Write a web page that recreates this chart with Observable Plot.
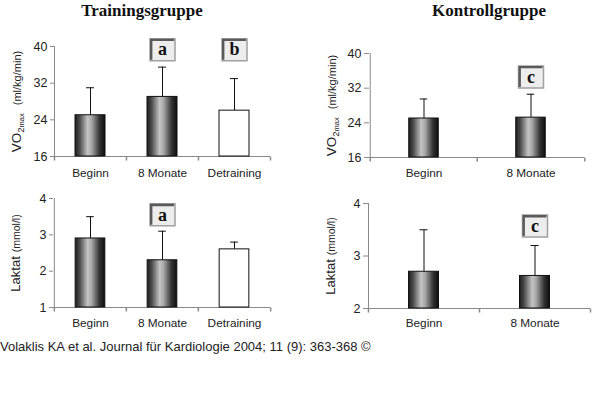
<!DOCTYPE html>
<html>
<head>
<meta charset="utf-8">
<script src="https://cdn.jsdelivr.net/npm/d3@7"></script>
<script src="https://cdn.jsdelivr.net/npm/@observablehq/plot@0.6"></script>
<style>
  html, body { margin: 0; padding: 0; background: #fff; }
  #root { position: relative; width: 600px; height: 396px; background: #fff; overflow: hidden; font-family: "Liberation Sans", Arial, sans-serif; }
  .title { position: absolute; font-family: "Liberation Serif", "Times New Roman", serif; font-weight: bold; font-size: 17px; line-height: 20px; text-align: center; color: #111; }
  .panel { position: absolute; }
  .caption { position: absolute; left: 0; top: 340px; font-size: 13px; line-height: 14px; color: #222; white-space: nowrap; }
</style>
</head>
<body>
<svg width="0" height="0" style="position:absolute">
  <defs>
    <linearGradient id="cyl" x1="0" x2="1" y1="0" y2="0">
      <stop offset="0" stop-color="#1e1e1e"/>
      <stop offset="0.15" stop-color="#4a4a4a"/>
      <stop offset="0.42" stop-color="#c4c4c4"/>
      <stop offset="0.55" stop-color="#a8a8a8"/>
      <stop offset="0.82" stop-color="#333"/>
      <stop offset="1" stop-color="#0e0e0e"/>
    </linearGradient>
  </defs>
</svg>
<div id="root">
  <div class="title" style="left:0;top:1px;width:284px;">Trainingsgruppe</div>
  <div class="title" style="left:389px;top:1px;width:200px;">Kontrollgruppe</div>
  <div class="caption">Volaklis KA et al. Journal für Kardiologie 2004; 11 (9): 363-368 ©</div>
</div>
<script>
// ---- data ----
const catsTrain = ["Beginn", "8 Monate", "Detraining"];
const catsKontroll = ["Beginn", "8 Monate"];

const vo2TrainMean = [25, 29, 26];
const vo2TrainSD = [6, 6.5, 7];
const vo2TrainSig = ["", "a", "b"];

const vo2KontrollMean = [25, 25.2];
const vo2KontrollSD = [4.5, 5.4];
const vo2KontrollSig = ["", "c"];

const laktatTrainMean = [2.9, 2.3, 2.6];
const laktatTrainSD = [0.6, 0.8, 0.2];
const laktatTrainSig = ["", "a", ""];

const laktatKontrollMean = [2.7, 2.62];
const laktatKontrollSD = [0.8, 0.58];
const laktatKontrollSig = ["", "c"];

const vo2Domain = [16, 40];
const vo2Ticks = [16, 24, 32, 40];
const laktatTrainDomain = [1, 4];
const laktatTrainTicks = [1, 2, 3, 4];
const laktatKontrollDomain = [2, 4];
const laktatKontrollTicks = [2, 3, 4];

// level (data units) of the significance boxes
const sigLevel = { vo2Train: 39.3, vo2Kontroll: 34.6, laktatTrain: 3.55, laktatKontroll: 3.57 };

const vo2Label = "VO2max (ml/kg/min)";
const laktatLabel = "Laktat (mmol/l)";

// ---- helpers ----
const NS = "http://www.w3.org/2000/svg";
const tickDown = { draw(ctx) { ctx.moveTo(0, 0); ctx.lineTo(0, 4); } };
const boxSym = { draw(ctx) { ctx.rect(-12.5, -11, 25, 22); } };
const bevelSym = { draw(ctx) { ctx.moveTo(-11.3, 10); ctx.lineTo(-11.3, -9.8); ctx.lineTo(11.5, -9.8); } };

function richLabel(svg, plain, parts) {
  for (const t of svg.querySelectorAll("text")) {
    if (t.textContent === plain) {
      t.textContent = "";
      for (const p of parts) {
        const ts = document.createElementNS(NS, "tspan");
        ts.textContent = p.t;
        ts.setAttribute("font-size", p.size);
        if (p.dy != null) ts.setAttribute("dy", p.dy);
        if (p.dx != null) ts.setAttribute("dx", p.dx);
        t.appendChild(ts);
      }
    }
  }
}

function panel(o) {
  const { cats, means, sds, sig, level, yDomain, yTicks, width, height, mL, mR, mT, mB, label, labelParts, xPad, tickSize, left, top } = o;
  const bw = (width - mL - mR) / cats.length;
  const data = cats.map((c, i) => ({ cat: c, mean: means[i], sd: sds[i], sig: sig[i] }));
  const ann = data.filter(d => d.sig);
  const filled = data.filter(d => d.cat !== "Detraining");
  const hollow = data.filter(d => d.cat === "Detraining");
  const barInset = (bw - 30) / 2;
  const capInset = (bw - 8) / 2;
  const svg = Plot.plot({
    width, height,
    marginLeft: mL, marginRight: mR, marginTop: mT, marginBottom: mB,
    x: { type: "band", domain: cats, padding: 0, axis: null },
    y: { domain: yDomain, axis: null },
    style: { fontFamily: "'Liberation Sans', Arial, sans-serif", fontSize: "12px", color: "#222", background: "transparent", overflow: "visible" },
    marks: [
      Plot.ruleY([yDomain[0]], { stroke: "#8a8a8a" }),
      Plot.ruleX([cats[0]], { x: d => d, dx: -bw / 2, y1: yDomain[0], y2: yDomain[1], stroke: "#8a8a8a" }),
      Plot.dot(cats, { x: d => d, y: () => yDomain[0], dx: -bw / 2, symbol: tickDown, stroke: "#8a8a8a", fill: "none", r: 3 }),
      Plot.dot([cats[cats.length - 1]], { x: d => d, y: () => yDomain[0], dx: bw / 2, symbol: tickDown, stroke: "#8a8a8a", fill: "none", r: 3 }),
      Plot.axisY({ ticks: yTicks, tickSize, tickPadding: 3, stroke: "#8a8a8a", fill: "#222", fontSize: 12.5, label: null, tickFormat: d => String(d) }),
      Plot.axisX({ tickSize: 0, tickPadding: xPad, fill: "#222", fontSize: 11.8, label: null }),
      Plot.ruleX(data, { x: "cat", y1: "mean", y2: d => d.mean + d.sd, stroke: "#111" }),
      Plot.tickY(data, { x: "cat", y: d => d.mean + d.sd, insetLeft: capInset, insetRight: capInset, stroke: "#111" }),
      Plot.barY(filled, { x: "cat", y1: () => yDomain[0], y2: "mean", fill: "url(#cyl)", stroke: "#111", insetLeft: barInset, insetRight: barInset }),
      Plot.barY(hollow, { x: "cat", y1: () => yDomain[0], y2: "mean", fill: "white", stroke: "#111", insetLeft: barInset, insetRight: barInset }),
      Plot.dot(ann, { x: "cat", y: () => level, symbol: boxSym, fill: "#ededed", stroke: "#a0a0a0", r: 10 }),
      Plot.dot(ann, { x: "cat", y: () => level, symbol: bevelSym, fill: "none", stroke: "#5a5a5a", strokeWidth: 2.4, r: 10 }),
      Plot.text(ann, { x: "cat", y: () => level, text: "sig", fontFamily: "'Liberation Serif', 'Times New Roman', serif", fontWeight: "bold", fontSize: 18, fill: "#111" }),
      Plot.text([label], { text: d => d, frameAnchor: "left", rotate: -90, dx: -37.5, textAnchor: "middle", fontSize: 13, fill: "#222" })
    ]
  });
  richLabel(svg, label, labelParts);
  const wrap = document.createElement("div");
  wrap.className = "panel";
  wrap.style.left = left + "px";
  wrap.style.top = top + "px";
  wrap.appendChild(svg);
  document.getElementById("root").appendChild(wrap);
}

const vo2Parts = [
  { t: "VO", size: 13.5 },
  { t: "2", size: 9.5, dy: 3 },
  { t: "max", size: 7.5 },
  { t: "(ml/kg/min)", size: 11, dy: -3, dx: 8 }
];
const laktatParts = [
  { t: "Laktat", size: 13 },
  { t: "(mmol/l)", size: 10.5, dx: 4 }
];

panel({ cats: catsTrain, means: vo2TrainMean, sds: vo2TrainSD, sig: vo2TrainSig, level: sigLevel.vo2Train,
  yDomain: vo2Domain, yTicks: vo2Ticks, width: 290, height: 155, mL: 54, mR: 20, mT: 16, mB: 29,
  label: vo2Label, labelParts: vo2Parts, xPad: 12.5, tickSize: 4, left: 0, top: 30 });

panel({ cats: catsKontroll, means: vo2KontrollMean, sds: vo2KontrollSD, sig: vo2KontrollSig, level: sigLevel.vo2Kontroll,
  yDomain: vo2Domain, yTicks: vo2Ticks, width: 300, height: 157, mL: 69, mR: 16, mT: 23, mB: 30,
  label: vo2Label, labelParts: vo2Parts, xPad: 11, tickSize: 5, left: 300, top: 30 });

panel({ cats: catsTrain, means: laktatTrainMean, sds: laktatTrainSD, sig: laktatTrainSig, level: sigLevel.laktatTrain,
  yDomain: laktatTrainDomain, yTicks: laktatTrainTicks, width: 290, height: 150, mL: 53, mR: 20, mT: 13, mB: 28,
  label: laktatLabel, labelParts: laktatParts, xPad: 11.5, tickSize: 4, left: 0, top: 185 });

panel({ cats: catsKontroll, means: laktatKontrollMean, sds: laktatKontrollSD, sig: laktatKontrollSig, level: sigLevel.laktatKontroll,
  yDomain: laktatKontrollDomain, yTicks: laktatKontrollTicks, width: 300, height: 150, mL: 68, mR: 10, mT: 18, mB: 27,
  label: laktatLabel, labelParts: laktatParts, xPad: 10, tickSize: 5, left: 300, top: 185 });
</script>
</body>
</html>
